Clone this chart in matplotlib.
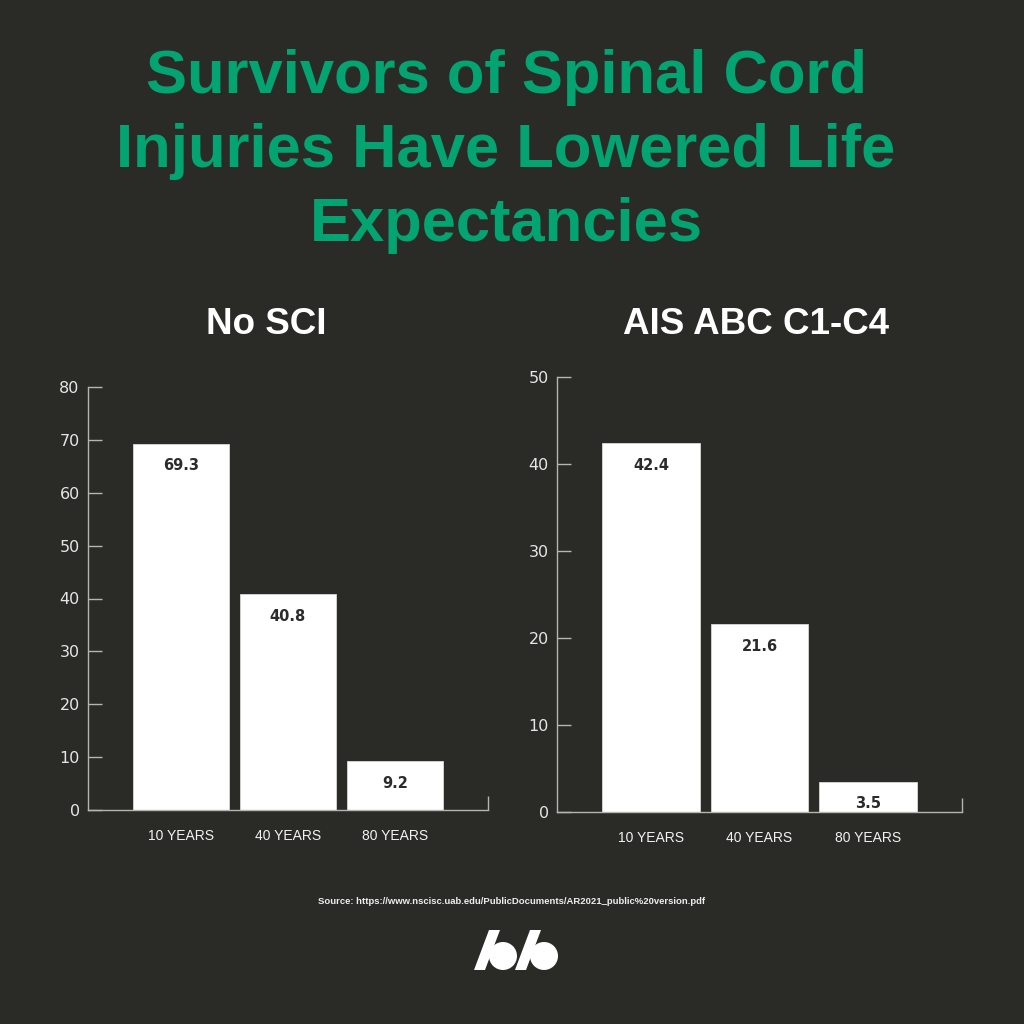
import matplotlib
matplotlib.use('Agg')
import matplotlib.pyplot as plt
from matplotlib.patches import Polygon, Circle

BG = '#2a2b27'
GREEN = '#04a472'
SPINE = '#b5b5b2'

categories = ['10 YEARS', '40 YEARS', '80 YEARS']
no_sci = [69.3, 40.8, 9.2]
ais_abc = [42.4, 21.6, 3.5]

plt.rcParams['font.family'] = ['Liberation Sans', 'DejaVu Sans']

fig = plt.figure(figsize=(10.24, 10.24), dpi=100, facecolor=BG)


def px(x, y):
    """pixel coords (top-left origin) -> figure fraction"""
    return x / 1024, 1 - y / 1024


def draw_panel(rect, values, ymax, step, title, title_xy):
    ax = fig.add_axes(rect)
    ax.set_facecolor(BG)
    xs = range(len(values))
    ax.bar(xs, values, width=0.9, color='white', edgecolor='#d8d8d8', linewidth=0.6, zorder=2)
    for x, v in zip(xs, values):
        ax.annotate(f'{v}', (x, v), xytext=(0, -16), textcoords='offset points',
                    ha='center', va='center', fontsize=10.5, fontweight='bold',
                    color='#2b2b2b', family='DejaVu Sans')
    ax.set_xlim(-0.87, len(values) - 1 + 0.87)
    ax.set_ylim(0, ymax)
    ax.set_yticks(range(0, ymax + 1, step))
    ax.set_xticks(list(xs))
    ax.set_xticklabels(categories)
    ax.set_xticks([len(values) - 1 + 0.87], minor=True)
    for s in ['top', 'right']:
        ax.spines[s].set_visible(False)
    for s in ['left', 'bottom']:
        ax.spines[s].set_color(SPINE)
        ax.spines[s].set_linewidth(1.0)
    ax.tick_params(axis='y', direction='in', length=10, width=1.0, color=SPINE,
                   labelcolor='#e6e6e6', labelsize=11.5, pad=6)
    for lab in ax.get_yticklabels():
        lab.set_family('DejaVu Sans')
    ax.tick_params(axis='x', which='major', length=0, labelcolor='#f2f2f2', labelsize=10, pad=13.5)
    ax.tick_params(axis='x', which='minor', direction='in', length=10, width=1.0, color=SPINE)
    fx, fy = px(*title_xy)
    fig.text(fx, fy, title, ha='center', va='center', fontsize=26.5, fontweight='bold', color='white')
    return ax


draw_panel([88 / 1024, 1 - 810 / 1024, 400 / 1024, 423 / 1024], no_sci, 80, 10, 'No SCI', (266, 325))
draw_panel([557 / 1024, 1 - 812 / 1024, 405 / 1024, 435 / 1024], ais_abc, 50, 10, 'AIS ABC C1-C4', (756, 325))

title_lines = ['Survivors of Spinal Cord', 'Injuries Have Lowered Life', 'Expectancies']
for i, line in enumerate(title_lines):
    fx, fy = px(506, 78 + i * 73.5)
    fig.text(fx, fy, line, ha='center', va='center', fontsize=44.3, fontweight='bold', color=GREEN)

fx, fy = px(512, 901)
fig.text(fx, fy, 'Source: https://www.nscisc.uab.edu/PublicDocuments/AR2021_public%20version.pdf',
         ha='center', va='center', fontsize=6.8, fontweight='bold', color='#eeeeee')

# logo: two slanted "b" marks
for dx in (0, 41):
    stroke = [px(489 + dx, 930), px(500 + dx, 930), px(485 + dx, 970), px(474 + dx, 970)]
    fig.patches.append(Polygon(stroke, closed=True, transform=fig.transFigure,
                               facecolor='white', edgecolor='none'))
    cx, cy = px(503 + dx, 956)
    fig.patches.append(Circle((cx, cy), 14 / 1024, transform=fig.transFigure,
                              facecolor='white', edgecolor='none'))

fig.savefig('out.png', dpi=100, facecolor=BG)
